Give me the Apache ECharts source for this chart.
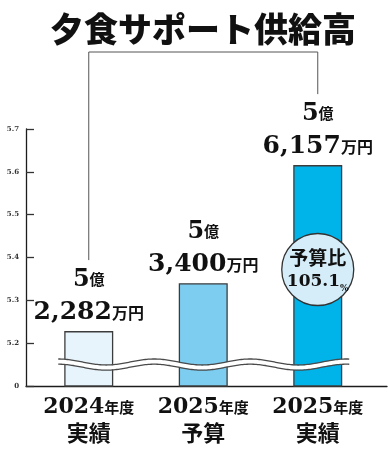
<!DOCTYPE html>
<html>
<head>
<meta charset="utf-8">
<script src="https://cdn.jsdelivr.net/npm/echarts@6/dist/echarts.min.js"></script>
<style>
  html, body { margin: 0; padding: 0; background: #fff; }
  #chart { width: 388px; height: 459px; }
</style>
</head>
<body>
<div id="chart"></div>
<script>
// 夕食サポート供給高 (単位: 万円)
const titleText = '夕食サポート供給高';
const fiscalYears = ['2024', '2025', '2025'];
const kinds = ['実績', '予算', '実績'];
const amountsMan = [52282, 53400, 56157];
const barColors = ['#e8f4fc', '#7dcdf1', '#00b4ea'];
// broken axis: the bottom tick stands for 0
const yTickValues = [5.1, 5.2, 5.3, 5.4, 5.5, 5.6, 5.7];
const yTickLabels = ['0', '5.2', '5.3', '5.4', '5.5', '5.6', '5.7'];
const badgeTitle = '予算比';

const SERIF = '"DejaVu Serif", "Liberation Serif", serif';
const JP = '"Noto Sans CJK JP", sans-serif';
const INK = '#1c1c1c';

const categories = fiscalYears.map((y, i) => y + '年度\n' + kinds[i]);
const amountsOku = amountsMan.map(v => v / 10000);
const budgetRatio = (Math.floor(amountsMan[2] / amountsMan[1] * 1000) / 10).toFixed(1);

function splitAmount(v) {
  const oku = Math.floor(v / 10000);
  const man = (v % 10000).toLocaleString('en-US');
  return { oku, man };
}

const chart = echarts.init(document.getElementById('chart'), null, { renderer: 'canvas' });

const option = {
  animation: false,
  backgroundColor: '#fff',
  title: {
    text: titleText,
    left: 45,
    top: 7,
    textStyle: { fontFamily: JP, fontWeight: 900, fontSize: 34, color: '#111' }
  },
  grid: [
    { left: 26, right: 1, top: 129, bottom: 73 },
    { left: 31.5, right: 13, top: 129, bottom: 73 }
  ],
  xAxis: [
    {
      gridIndex: 0, type: 'value', min: 0, max: 1,
      axisLine: { show: true, onZero: false, lineStyle: { color: INK, width: 1.3 } },
      axisTick: { show: false }, axisLabel: { show: false }, splitLine: { show: false }
    },
    {
      gridIndex: 1, type: 'category', data: categories,
      axisLine: { show: false }, axisTick: { show: false },
      axisLabel: {
        margin: 9,
        interval: 0,
        formatter: (val, i) => '{n|' + fiscalYears[i] + '}{s|年度}\n{t|' + kinds[i] + '}',
        rich: {
          n: { fontFamily: SERIF, fontWeight: 'bold', fontSize: 22, color: '#111', lineHeight: 25 },
          s: { fontFamily: JP, fontWeight: 'bold', fontSize: 15, color: '#111', lineHeight: 25 },
          t: { fontFamily: JP, fontWeight: 'bold', fontSize: 22, color: '#111', lineHeight: 25 }
        }
      }
    }
  ],
  yAxis: [
    {
      gridIndex: 0, type: 'value', min: 5.1, max: 5.7, interval: 0.1,
      axisLine: { show: true, lineStyle: { color: INK, width: 1.3 } },
      axisTick: { show: true, inside: true, length: 8, lineStyle: { color: '#333', width: 1.3 } },
      splitLine: { show: false },
      axisLabel: {
        margin: 7,
        fontFamily: SERIF, fontWeight: 'bold', fontSize: 7, color: '#333',
        formatter: v => {
          const k = yTickValues.findIndex(t => Math.abs(t - v) < 1e-6);
          return k >= 0 ? yTickLabels[k] : '';
        }
      }
    },
    { gridIndex: 1, type: 'value', min: 5.1, max: 5.7, interval: 0.1, show: false }
  ],
  series: [
    {
      type: 'bar',
      xAxisIndex: 1, yAxisIndex: 1,
      barWidth: 49,
      data: amountsOku.map((v, i) => ({ value: v, itemStyle: { color: barColors[i] } })),
      itemStyle: { borderColor: '#3c3c3c', borderWidth: 1.3 },
      label: {
        show: true,
        position: 'top',
        distance: 2,
        formatter: p => {
          const a = splitAmount(amountsMan[p.dataIndex]);
          return '{a|' + a.oku + '}{b|億}\n{c|' + a.man + '}{d|万円}';
        },
        rich: {
          a: { fontFamily: SERIF, fontWeight: 'bold', fontSize: 24, color: '#111', lineHeight: 33 },
          b: { fontFamily: JP, fontWeight: 'bold', fontSize: 15, color: '#111', lineHeight: 33 },
          c: { fontFamily: SERIF, fontWeight: 'bold', fontSize: 25, color: '#111', lineHeight: 33 },
          d: { fontFamily: JP, fontWeight: 'bold', fontSize: 16, color: '#111', lineHeight: 33 }
        }
      },
      markPoint: {
        symbol: 'circle',
        symbolSize: 72,
        itemStyle: { color: '#d5edf9', borderColor: '#333', borderWidth: 1.3 },
        label: {
          show: true,
          position: 'inside',
          formatter: '{j|' + badgeTitle + '}\n{n|' + budgetRatio + '}{p|%}',
          rich: {
            j: { fontFamily: JP, fontWeight: 'bold', fontSize: 19, color: '#111', lineHeight: 24 },
            n: { fontFamily: SERIF, fontWeight: 'bold', fontSize: 17, color: '#111', lineHeight: 24 },
            p: { fontFamily: SERIF, fontWeight: 'bold', fontSize: 9, color: '#111', lineHeight: 24, verticalAlign: 'bottom' }
          }
        },
        data: [{ coord: [2, 5.372] }]
      }
    }
  ]
};

chart.setOption(option);

// bracket from the title down to the first and last bars, plus the axis-break wave
function drawDecorations() {
  const top = i => chart.convertToPixel({ seriesIndex: 0 }, [i, amountsOku[i]]);
  const p0 = top(0), p2 = top(2);
  const bracketTop = 52;
  const gap = 71;

  const halfBar = 24.5;
  const xs = p0[0] - halfBar - 6;
  const xe = p2[0] + halfBar + 7;
  const yc = chart.convertToPixel({ seriesIndex: 0 }, [0, 5.15])[1];
  const period = 96, amp = 3, half = 2.6;
  const mid = [], upper = [], lower = [];
  for (let x = xs; x <= xe + 0.01; x += 1.5) {
    const y = yc - amp * Math.cos(2 * Math.PI * (x - xs) / period);
    mid.push([x, y]);
    upper.push([x, y - half]);
    lower.push([x, y + half]);
  }

  chart.setOption({
    graphic: [
      {
        type: 'polyline', z: 1,
        shape: { points: [[p0[0], p0[1] - gap], [p0[0], bracketTop], [p2[0], bracketTop], [p2[0], p2[1] - gap]] },
        style: { stroke: '#555', lineWidth: 1, fill: null }
      },
      { type: 'polyline', z: 20, shape: { points: mid }, style: { stroke: '#fff', lineWidth: 4.4, fill: null } },
      { type: 'polyline', z: 21, shape: { points: upper }, style: { stroke: '#4a4a4a', lineWidth: 1.3, fill: null } },
      { type: 'polyline', z: 21, shape: { points: lower }, style: { stroke: '#4a4a4a', lineWidth: 1.3, fill: null } }
    ]
  });
}
drawDecorations();
</script>
</body>
</html>
